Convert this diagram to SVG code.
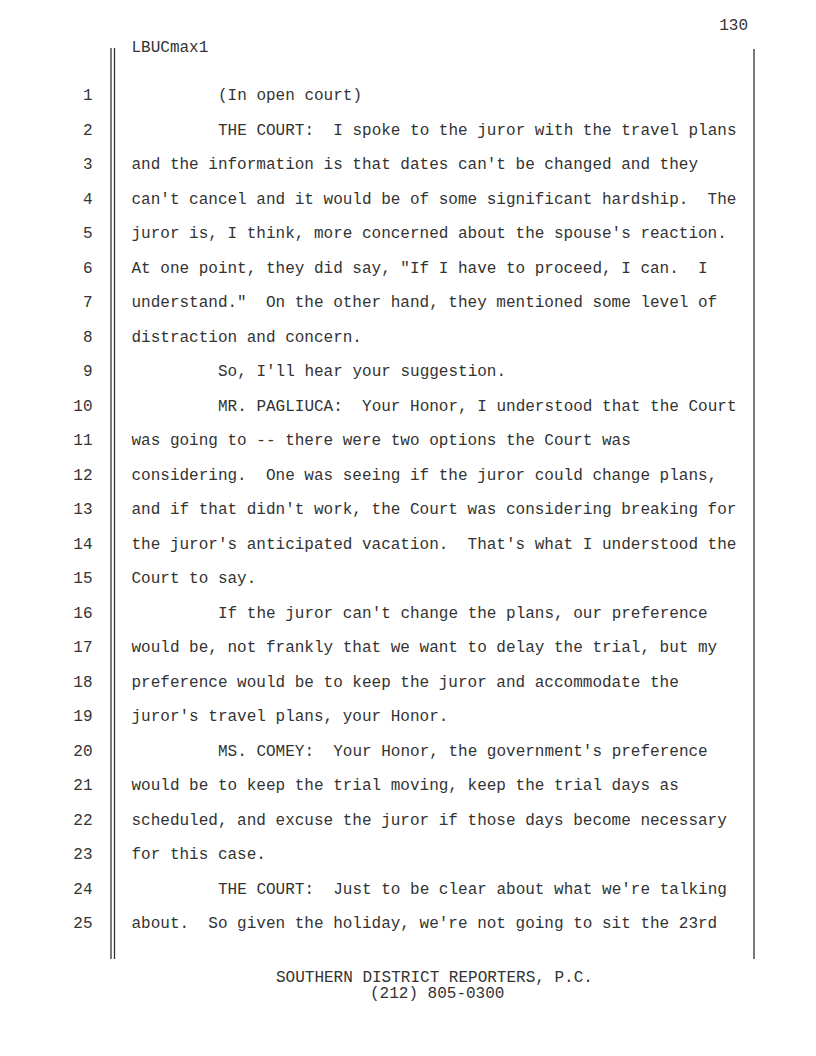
<svg xmlns="http://www.w3.org/2000/svg" width="816" height="1056" viewBox="0 0 816 1056">
<style>
text{font-family:"Liberation Mono","Courier New",monospace;font-size:16px;fill:#333;white-space:pre}
.n{text-anchor:end}
.rule{stroke:#333;stroke-width:1.3;fill:none}
</style>
<rect width="816" height="1056" fill="#fff"/>
<g id="header">
<text x="748" y="30" class="n">130</text>
<text x="131.5" y="52" font-size="15.5">LBUCmax1</text>
</g>
<g id="rules">
<line class="rule" x1="111" y1="48" x2="111" y2="959"/>
<line class="rule" x1="114.5" y1="48" x2="114.5" y2="959"/>
<line class="rule" x1="754" y1="49" x2="754" y2="959"/>
</g>
<g id="linenumbers">
<text class="n" x="92.5" y="100">1</text>
<text class="n" x="92.5" y="134.5">2</text>
<text class="n" x="92.5" y="169">3</text>
<text class="n" x="92.5" y="203.5">4</text>
<text class="n" x="92.5" y="238">5</text>
<text class="n" x="92.5" y="272.5">6</text>
<text class="n" x="92.5" y="307">7</text>
<text class="n" x="92.5" y="341.5">8</text>
<text class="n" x="92.5" y="376">9</text>
<text class="n" x="92.5" y="410.5">10</text>
<text class="n" x="92.5" y="445">11</text>
<text class="n" x="92.5" y="479.5">12</text>
<text class="n" x="92.5" y="514">13</text>
<text class="n" x="92.5" y="548.5">14</text>
<text class="n" x="92.5" y="583">15</text>
<text class="n" x="92.5" y="617.5">16</text>
<text class="n" x="92.5" y="652">17</text>
<text class="n" x="92.5" y="686.5">18</text>
<text class="n" x="92.5" y="721">19</text>
<text class="n" x="92.5" y="755.5">20</text>
<text class="n" x="92.5" y="790">21</text>
<text class="n" x="92.5" y="824.5">22</text>
<text class="n" x="92.5" y="859">23</text>
<text class="n" x="92.5" y="893.5">24</text>
<text class="n" x="92.5" y="928">25</text>
</g>
<g id="body">
<text x="218" y="100">(In open court)</text>
<text x="218" y="134.5">THE COURT:  I spoke to the juror with the travel plans</text>
<text x="131.5" y="169">and the information is that dates can't be changed and they</text>
<text x="131.5" y="203.5">can't cancel and it would be of some significant hardship.  The</text>
<text x="131.5" y="238">juror is, I think, more concerned about the spouse's reaction.</text>
<text x="131.5" y="272.5">At one point, they did say, "If I have to proceed, I can.  I</text>
<text x="131.5" y="307">understand."  On the other hand, they mentioned some level of</text>
<text x="131.5" y="341.5">distraction and concern.</text>
<text x="218" y="376">So, I'll hear your suggestion.</text>
<text x="218" y="410.5">MR. PAGLIUCA:  Your Honor, I understood that the Court</text>
<text x="131.5" y="445">was going to -- there were two options the Court was</text>
<text x="131.5" y="479.5">considering.  One was seeing if the juror could change plans,</text>
<text x="131.5" y="514">and if that didn't work, the Court was considering breaking for</text>
<text x="131.5" y="548.5">the juror's anticipated vacation.  That's what I understood the</text>
<text x="131.5" y="583">Court to say.</text>
<text x="218" y="617.5">If the juror can't change the plans, our preference</text>
<text x="131.5" y="652">would be, not frankly that we want to delay the trial, but my</text>
<text x="131.5" y="686.5">preference would be to keep the juror and accommodate the</text>
<text x="131.5" y="721">juror's travel plans, your Honor.</text>
<text x="218" y="755.5">MS. COMEY:  Your Honor, the government's preference</text>
<text x="131.5" y="790">would be to keep the trial moving, keep the trial days as</text>
<text x="131.5" y="824.5">scheduled, and excuse the juror if those days become necessary</text>
<text x="131.5" y="859">for this case.</text>
<text x="218" y="893.5">THE COURT:  Just to be clear about what we're talking</text>
<text x="131.5" y="928">about.  So given the holiday, we're not going to sit the 23rd</text>
</g>
<g id="footer">
<text x="276" y="982" font-size="15.75">SOUTHERN DISTRICT REPORTERS, P.C.</text>
<text x="370" y="998" font-size="15.75">(212) 805-0300</text>
</g>
</svg>
